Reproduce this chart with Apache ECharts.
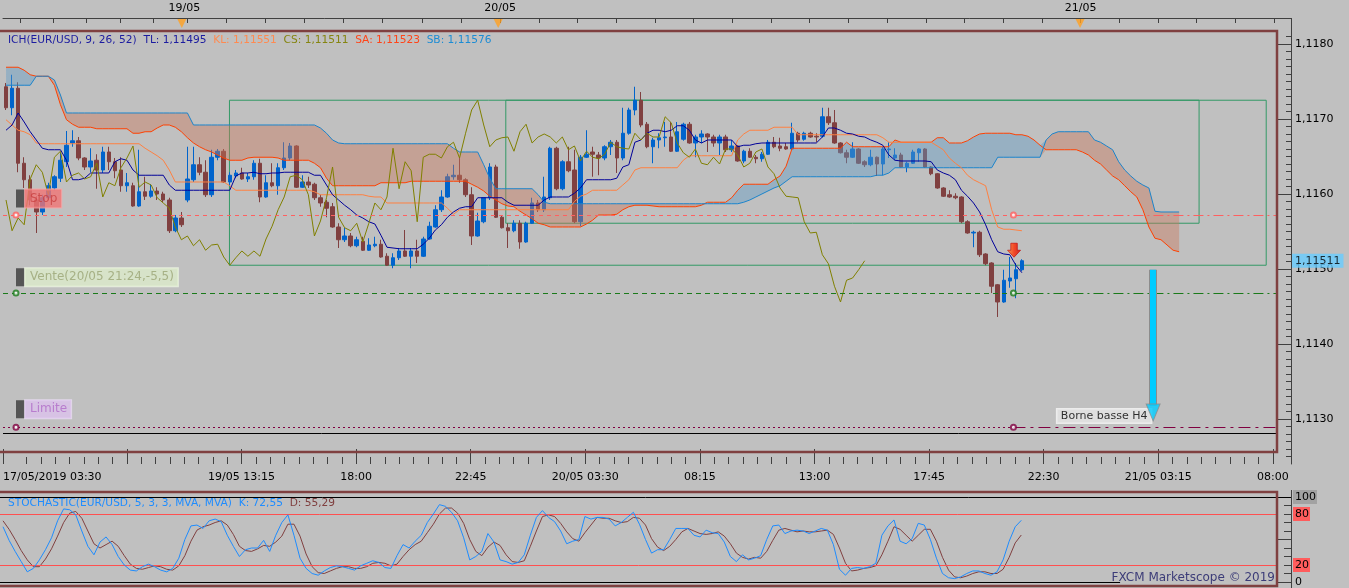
<!DOCTYPE html>
<html><head><meta charset="utf-8">
<script src="https://cdn.jsdelivr.net/npm/echarts@6/dist/echarts.min.js"></script>
<style>html,body{margin:0;padding:0;background:#c0c0c0;overflow:hidden}#c{width:1349px;height:588px}</style>
</head><body><div id="c"></div>
<script>
// ---------- data ----------
// 15-minute candles EUR/USD: [open, close, low, high]
const candles = [
[1.11743,1.11715,1.11712,1.11748],[1.11715,1.11741,1.11705,1.11759],[1.11741,1.11641,1.11629,1.11749],[1.11641,1.11619,1.11608,1.11649],[1.11619,1.11592,1.11585,1.11625],
[1.11592,1.11576,1.11548,1.11597],[1.11576,1.11595,1.11572,1.11599],[1.11595,1.11611,1.11592,1.11615],[1.11608,1.11623,1.11605,1.11625],[1.11621,1.11645,1.11616,1.11655],
[1.11643,1.11665,1.11636,1.11684],[1.11668,1.11671,1.11663,1.11685],[1.11671,1.11648,1.11645,1.11676],[1.11648,1.11636,1.11632,1.11649],[1.11636,1.11644,1.11629,1.11661],
[1.11645,1.11632,1.11607,1.11653],[1.11632,1.11656,1.11628,1.11663],[1.11656,1.11643,1.11632,1.11663],[1.11643,1.11631,1.11621,1.11648],[1.11632,1.11611,1.11603,1.11649],
[1.11611,1.11615,1.11603,1.11628],[1.11611,1.11584,1.11583,1.11615],[1.11584,1.11603,1.11583,1.11659],[1.11603,1.11597,1.11592,1.11623],[1.11597,1.11604,1.11595,1.11613],
[1.11604,1.11600,1.11592,1.11609],[1.11600,1.11592,1.11589,1.11603],[1.11592,1.11551,1.11548,1.11595],[1.11551,1.11568,1.11549,1.11572],[1.11568,1.11559,1.11556,1.11576],
[1.11592,1.11620,1.11589,1.11663],[1.11619,1.11639,1.11616,1.11663],[1.11639,1.11629,1.11625,1.11649],[1.11629,1.11599,1.11596,1.11645],[1.11599,1.11649,1.11596,1.11659],
[1.11649,1.11657,1.11645,1.11660],[1.11657,1.11616,1.11615,1.11660],[1.11616,1.11625,1.11611,1.11629],[1.11624,1.11628,1.11621,1.11632],[1.11628,1.11620,1.11619,1.11635],
[1.11620,1.11623,1.11616,1.11628],[1.11623,1.11641,1.11619,1.11645],[1.11641,1.11596,1.11589,1.11647],[1.11596,1.11615,1.11595,1.11625],[1.11615,1.11611,1.11609,1.11641],
[1.11611,1.11635,1.11599,1.11641],[1.11635,1.11648,1.11632,1.11669],[1.11648,1.11664,1.11645,1.11668],[1.11664,1.11609,1.11608,1.11665],[1.11609,1.11616,1.11608,1.11625],
[1.11616,1.11612,1.11608,1.11623],[1.11613,1.11595,1.11592,1.11615],[1.11595,1.11588,1.11583,1.11599],[1.11589,1.11581,1.11569,1.11592],[1.11583,1.11556,1.11555,1.11588],
[1.11556,1.11539,1.11528,1.11561],[1.11539,1.11544,1.11536,1.11555],[1.11544,1.11531,1.11529,1.11548],[1.11531,1.11539,1.11529,1.11543],[1.11537,1.11525,1.11524,1.11543],
[1.11525,1.11532,1.11524,1.11541],[1.11531,1.11533,1.11529,1.11543],[1.11533,1.11516,1.11515,1.11539],[1.11517,1.11505,1.11504,1.11521],[1.11505,1.11515,1.11501,1.11521],
[1.11515,1.11524,1.11512,1.11528],[1.11524,1.11517,1.11516,1.11552],[1.11517,1.11524,1.11501,1.11528],[1.11524,1.11517,1.11508,1.11539],[1.11517,1.11540,1.11516,1.11543],
[1.11540,1.11557,1.11539,1.11563],[1.11556,1.11579,1.11555,1.11585],[1.11579,1.11596,1.11576,1.11605],[1.11596,1.11623,1.11595,1.11627],[1.11623,1.11625,1.11619,1.11639],
[1.11625,1.11619,1.11615,1.11649],[1.11619,1.11599,1.11596,1.11621],[1.11599,1.11544,1.11532,1.11609],[1.11544,1.11564,1.11543,1.11575],[1.11563,1.11595,1.11561,1.11596],
[1.11595,1.11636,1.11592,1.11641],[1.11636,1.11569,1.11568,1.11639],[1.11569,1.11555,1.11554,1.11572],[1.11555,1.11551,1.11528,1.11561],[1.11551,1.11561,1.11549,1.11565],
[1.11561,1.11536,1.11527,1.11565],[1.11536,1.11561,1.11535,1.11563],[1.11561,1.11588,1.11560,1.11595],[1.11588,1.11579,1.11576,1.11592],[1.11579,1.11596,1.11576,1.11623],
[1.11595,1.11661,1.11592,1.11663],[1.11661,1.11607,1.11605,1.11663],[1.11607,1.11643,1.11605,1.11645],[1.11643,1.11631,1.11629,1.11663],[1.11632,1.11563,1.11561,1.11659],
[1.11563,1.11649,1.11557,1.11652],[1.11649,1.11653,1.11648,1.11685],[1.11656,1.11653,1.11623,1.11663],[1.11652,1.11648,1.11625,1.11656],[1.11648,1.11663,1.11645,1.11665],
[1.11663,1.11669,1.11652,1.11672],[1.11669,1.11648,1.11628,1.11672],[1.11648,1.11681,1.11645,1.11715],[1.11681,1.11712,1.11679,1.11715],[1.11712,1.11725,1.11705,1.11743],
[1.11725,1.11692,1.11689,1.11736],[1.11693,1.11663,1.11661,1.11696],[1.11663,1.11672,1.11641,1.11675],[1.11672,1.11675,1.11661,1.11681],[1.11675,1.11676,1.11663,1.11696],
[1.11676,1.11657,1.11656,1.11696],[1.11657,1.11683,1.11656,1.11696],[1.11673,1.11693,1.11671,1.11695],[1.11693,1.11668,1.11667,1.11696],[1.11668,1.11676,1.11649,1.11679],
[1.11676,1.11680,1.11668,1.11685],[1.11680,1.11676,1.11656,1.11681],[1.11676,1.11668,1.11663,1.11679],[1.11668,1.11676,1.11652,1.11679],[1.11676,1.11659,1.11656,1.11679],
[1.11659,1.11664,1.11656,1.11672],[1.11664,1.11644,1.11643,1.11665],[1.11644,1.11657,1.11641,1.11659],[1.11657,1.11649,1.11648,1.11661],[1.11649,1.11647,1.11641,1.11652],
[1.11647,1.11653,1.11643,1.11656],[1.11653,1.11669,1.11652,1.11672],[1.11669,1.11663,1.11661,1.11676],[1.11664,1.11661,1.11657,1.11675],[1.11663,1.11660,1.11659,1.11668],
[1.11660,1.11681,1.11659,1.11695],[1.11681,1.11672,1.11669,1.11683],[1.11673,1.11681,1.11671,1.11683],[1.11681,1.11676,1.11675,1.11683],[1.11677,1.11676,1.11669,1.11681],
[1.11677,1.11703,1.11675,1.11715],[1.11703,1.11695,1.11692,1.11715],[1.11695,1.11668,1.11667,1.11712],[1.11668,1.11655,1.11654,1.11669],[1.11655,1.11649,1.11641,1.11659],
[1.11649,1.11660,1.11648,1.11669],[1.11660,1.11641,1.11640,1.11661],[1.11643,1.11639,1.11636,1.11645],[1.11639,1.11649,1.11637,1.11659],[1.11649,1.11640,1.11624,1.11650],
[1.11640,1.11660,1.11625,1.11663],[1.11659,1.11660,1.11648,1.11669],[1.11648,1.11652,1.11645,1.11661],[1.11652,1.11636,1.11635,1.11655],[1.11636,1.11641,1.11629,1.11643],
[1.11641,1.11656,1.11640,1.11659],[1.11655,1.11660,1.11643,1.11661],[1.11660,1.11636,1.11635,1.11661],[1.11636,1.11627,1.11625,1.11637],[1.11627,1.11608,1.11607,1.11628],
[1.11608,1.11597,1.11596,1.11609],[1.11599,1.11596,1.11595,1.11605],[1.11597,1.11595,1.11593,1.11601],[1.11596,1.11563,1.11561,1.11597],[1.11563,1.11548,1.11547,1.11565],
[1.11548,1.11549,1.11529,1.11551],[1.11549,1.11519,1.11516,1.11551],[1.11520,1.11507,1.11505,1.11521],[1.11508,1.11477,1.11468,1.11509],[1.11479,1.11456,1.11436,1.11480],
[1.11456,1.11485,1.11455,1.11499],[1.11484,1.11488,1.11475,1.11516],[1.11487,1.11499,1.11461,1.11508],[1.11499,1.11511,1.11497,1.11513]
];
// Tenkan-sen (TL)
const tenkan = [
1.11685,1.11692,1.11708,1.11696,1.11683,1.11672,1.11661,1.11659,1.11659,1.11659,
1.11645,1.11619,1.11619,1.11621,1.11628,1.11628,1.11628,1.11628,1.11643,1.11647,
1.11645,1.11632,1.11625,1.11625,1.11625,1.11625,1.11625,1.11612,1.11605,1.11605,
1.11605,1.11605,1.11605,1.11605,1.11605,1.11605,1.11605,1.11605,1.11624,1.11628,
1.11628,1.11629,1.11627,1.11627,1.11628,1.11628,1.11629,1.11629,1.11629,1.11629,
1.11629,1.11625,1.11625,1.11612,1.11599,1.11592,1.11585,1.11579,1.11572,1.11568,
1.11563,1.11560,1.11545,1.11529,1.11528,1.11527,1.11527,1.11527,1.11527,1.11533,
1.11541,1.11552,1.11559,1.11569,1.11576,1.11581,1.11583,1.11583,1.11595,1.11595,
1.11595,1.11595,1.11595,1.11589,1.11585,1.11585,1.11585,1.11585,1.11585,1.11592,
1.11596,1.11596,1.11596,1.11596,1.11601,1.11608,1.11619,1.11619,1.11619,1.11619,
1.11619,1.11621,1.11636,1.11639,1.11669,1.11672,1.11681,1.11685,1.11685,1.11683,
1.11685,1.11691,1.11691,1.11685,1.11672,1.11668,1.11672,1.11672,1.11672,1.11672,
1.11672,1.11663,1.11665,1.11665,1.11667,1.11668,1.11668,1.11668,1.11668,1.11668,
1.11668,1.11668,1.11668,1.11668,1.11668,1.11676,1.11688,1.11688,1.11685,1.11681,
1.11680,1.11677,1.11676,1.11672,1.11669,1.11665,1.11652,1.11645,1.11644,1.11644,
1.11644,1.11644,1.11644,1.11643,1.11632,1.11628,1.11625,1.11619,1.11605,1.11597,
1.11588,1.11576,1.11559,1.11539,1.11523,1.11520,1.11519,1.11505,1.11495];
// Kijun-sen (KL)
const kijun = [
1.11699,1.11692,1.11685,1.11683,1.11679,1.11668,1.11667,1.11667,1.11667,1.11667,
1.11667,1.11667,1.11667,1.11667,1.11667,1.11667,1.11667,1.11667,1.11667,1.11667,
1.11667,1.11667,1.11667,1.11661,1.11656,1.11651,1.11645,1.11632,1.11616,1.11616,
1.11616,1.11616,1.11616,1.11616,1.11616,1.11616,1.11616,1.11611,1.11605,1.11605,
1.11605,1.11605,1.11605,1.11605,1.11605,1.11605,1.11605,1.11605,1.11605,1.11605,
1.11605,1.11603,1.11599,1.11599,1.11599,1.11599,1.11599,1.11599,1.11599,1.11599,
1.11597,1.11596,1.11596,1.11588,1.11588,1.11588,1.11588,1.11588,1.11588,1.11588,
1.11588,1.11588,1.11588,1.11581,1.11573,1.11579,1.11579,1.11579,1.11579,1.11579,
1.11579,1.11579,1.11579,1.11579,1.11579,1.11579,1.11579,1.11579,1.11579,1.11579,
1.11579,1.11579,1.11579,1.11579,1.11590,1.11597,1.11600,1.11605,1.11605,1.11605,
1.11605,1.11605,1.11612,1.11619,1.11632,1.11635,1.11635,1.11635,1.11635,1.11635,
1.11635,1.11635,1.11645,1.11651,1.11651,1.11651,1.11651,1.11651,1.11651,1.11651,
1.11651,1.11672,1.11680,1.11685,1.11685,1.11685,1.11685,1.11689,1.11689,1.11689,
1.11689,1.11679,1.11679,1.11679,1.11679,1.11679,1.11679,1.11679,1.11679,1.11679,
1.11679,1.11679,1.11679,1.11679,1.11679,1.11675,1.11669,1.11669,1.11669,1.11669,
1.11669,1.11669,1.11669,1.11669,1.11664,1.11659,1.11648,1.11641,1.11635,1.11625,
1.11619,1.11615,1.11611,1.11579,1.11556,1.11553,1.11553,1.11552,1.11551];
// Senkou span A (SA), 26 bars ahead
const senkouA = [
1.11769,1.11769,1.11769,1.11765,1.11759,1.11757,1.11757,1.11757,1.11745,1.11719,
1.11699,1.11693,1.11689,1.11689,1.11689,1.11687,1.11687,1.11687,1.11687,1.11687,
1.11687,1.11681,1.11681,1.11683,1.11683,1.11688,1.11692,1.11692,1.11689,1.11683,
1.11675,1.11668,1.11663,1.11659,1.11656,1.11652,1.11648,1.11645,1.11645,1.11645,
1.11648,1.11649,1.11649,1.11649,1.11649,1.11648,1.11645,1.11645,1.11645,1.11645,
1.11645,1.11641,1.11635,1.11621,1.11611,1.11611,1.11611,1.11611,1.11611,1.11611,
1.11611,1.11611,1.11615,1.11615,1.11615,1.11615,1.11615,1.11617,1.11617,1.11617,
1.11617,1.11617,1.11617,1.11617,1.11617,1.11617,1.11617,1.11613,1.11609,1.11604,
1.11597,1.11592,1.11587,1.11584,1.11583,1.11577,1.11572,1.11567,1.11561,1.11559,
1.11556,1.11556,1.11556,1.11556,1.11556,1.11556,1.11560,1.11565,1.11572,1.11572,
1.11572,1.11573,1.11579,1.11583,1.11585,1.11585,1.11585,1.11584,1.11583,1.11583,
1.11583,1.11583,1.11583,1.11583,1.11583,1.11585,1.11589,1.11589,1.11589,1.11589,
1.11595,1.11605,1.11613,1.11613,1.11613,1.11613,1.11613,1.11619,1.11624,1.11637,
1.11661,1.11661,1.11661,1.11661,1.11661,1.11661,1.11661,1.11661,1.11661,1.11669,
1.11663,1.11663,1.11663,1.11663,1.11663,1.11663,1.11663,1.11672,1.11669,1.11669,
1.11669,1.11669,1.11669,1.11669,1.11675,1.11675,1.11668,1.11668,1.11668,1.11671,
1.11676,1.11680,1.11681,1.11681,1.11681,1.11681,1.11681,1.11679,1.11679,1.11677,
1.11672,1.11665,1.11659,1.11659,1.11659,1.11659,1.11659,1.11659,1.11656,1.11652,
1.11645,1.11640,1.11632,1.11624,1.11619,1.11611,1.11603,1.11596,1.11579,1.11556,
1.11541,1.11539,1.11532,1.11525,1.11523];
// Senkou span B (SB), 26 bars ahead
const senkouB = [
1.11745,1.11745,1.11745,1.11745,1.11745,1.11757,1.11757,1.11757,1.11752,1.11732,
1.11708,1.11708,1.11708,1.11708,1.11708,1.11708,1.11708,1.11708,1.11708,1.11708,
1.11708,1.11708,1.11708,1.11708,1.11708,1.11708,1.11708,1.11708,1.11708,1.11708,
1.11708,1.11692,1.11692,1.11692,1.11692,1.11692,1.11692,1.11692,1.11692,1.11692,
1.11692,1.11692,1.11692,1.11692,1.11692,1.11692,1.11692,1.11692,1.11692,1.11692,
1.11692,1.11692,1.11688,1.11681,1.11672,1.11668,1.11667,1.11667,1.11667,1.11667,
1.11667,1.11667,1.11667,1.11667,1.11667,1.11667,1.11667,1.11667,1.11667,1.11667,
1.11667,1.11667,1.11667,1.11667,1.11661,1.11656,1.11656,1.11656,1.11656,1.11639,
1.11621,1.11607,1.11607,1.11607,1.11607,1.11607,1.11607,1.11607,1.11599,1.11589,
1.11587,1.11587,1.11587,1.11587,1.11587,1.11587,1.11587,1.11587,1.11587,1.11587,
1.11587,1.11587,1.11587,1.11587,1.11587,1.11587,1.11587,1.11587,1.11587,1.11587,
1.11587,1.11587,1.11587,1.11587,1.11587,1.11587,1.11587,1.11587,1.11587,1.11587,
1.11587,1.11587,1.11589,1.11592,1.11596,1.11600,1.11604,1.11608,1.11611,1.11617,
1.11623,1.11623,1.11623,1.11623,1.11623,1.11623,1.11623,1.11623,1.11623,1.11623,
1.11623,1.11623,1.11623,1.11623,1.11625,1.11625,1.11628,1.11635,1.11635,1.11635,
1.11635,1.11635,1.11635,1.11635,1.11635,1.11635,1.11635,1.11635,1.11635,1.11635,
1.11635,1.11635,1.11635,1.11635,1.11649,1.11649,1.11649,1.11649,1.11649,1.11649,
1.11649,1.11649,1.11672,1.11680,1.11683,1.11683,1.11683,1.11683,1.11683,1.11683,
1.11672,1.11669,1.11664,1.11659,1.11643,1.11632,1.11624,1.11617,1.11612,1.11608,
1.11577,1.11576,1.11576,1.11576,1.11576];
// Stochastic %K and %D
const stochK = [
65,49,36,24,12,16,26,38,52,72, 86,85,79,60,42,32,47,53,44,30, 20,14,13,18,21,18,14,12,16,28,
50,66,67,63,72,74,71,55,42,30, 38,40,40,49,36,55,70,79,55,28, 16,10,8,13,17,19,18,16,14,19,
22,25,23,17,16,31,44,40,48,55, 70,80,91,89,82,72,52,26,30,36, 57,47,26,24,21,23,32,55,76,84,
76,71,60,45,48,50,77,74,76,76, 74,66,70,76,82,68,50,34,38,38, 50,63,63,63,55,53,61,58,57,47,
30,24,32,26,28,31,50,66,67,57, 60,61,60,57,60,63,61,44,15,8, 16,17,16,18,22,55,66,73,48,45,
51,69,67,50,28,10,5,4,6,10, 13,13,10,8,12,26,48,65,72.55];
const stochD = [
72,62,50,37,26,18,18,27,39,54, 70,81,83,75,60,45,40,44,48,42, 31,21,16,15,17,19,18,15,14,19,
31,48,61,65,67,70,72,67,56,42, 37,36,39,43,42,47,54,68,68,54, 33,18,11,10,13,16,18,18,16,16,
18,22,23,22,19,21,30,38,44,48, 58,68,80,87,87,81,69,50,36,31, 41,47,43,32,24,23,25,42,60,77,
79,77,69,59,51,48,58,67,76,75, 75,72,70,71,76,75,67,51,41,37, 42,50,59,63,60,57,56,57,59,54,
45,34,29,27,29,28,36,49,61,63, 61,59,60,59,59,60,61,56,40,22, 13,14,16,17,19,32,48,65,62,55,
48,55,62,62,48,29,14,6,5,7, 10,12,12,10,10,15,29,46,55.29];
// order levels
const levelNames = ['Stop', 'Vente(20/05 21:24,-5,5)', 'Limite'];
const levelPrices = [1.11572, 1.11468, 1.11289];
// analyst boxes [fromBar, toBar, low, high]
const boxes = [[36.95, 208.4, 1.11505, 1.11725], [82.65, 197.3, 1.11561, 1.11725]];
// target arrow [bar, fromPrice, toPrice]
const target = [189.7, 1.11499, 1.11318];
const targetText = 'Borne basse H4';
// axis labels
const priceLabels = [1.113, 1.114, 1.115, 1.116, 1.117, 1.118];
const timeLabelPos = [-0.5, 38.95, 57.9, 76.85, 95.8, 114.75, 133.7, 152.65, 171.6, 190.55, 209.5];
const timeLabels = ['17/05/2019 03:30', '19/05 13:15', '18:00', '22:45', '20/05 03:30', '08:15', '13:00', '17:45', '22:30', '21/05 03:15', '08:00'];
const majorTimeTicks = [-0.5, 20, 38.95, 57.9, 76.85, 95.8, 114.75, 133.7, 152.65, 171.6, 190.55, 209.5];
const dayPos = [29.5, 81.7, 177.7];
const dayLabels = ['19/05', '20/05', '21/05'];
const topTicks = [2.3, 7.8, 13.3, 18.9, 24.4, 29.9, 36.4, 42.85, 49.3, 55.8, 62.3, 68.75, 75.2, 81.7, 88.1, 94.5, 100.9, 107.3, 113.7, 120.1, 126.5, 132.9, 139.3, 145.7, 152.1, 158.5, 164.9, 171.3, 177.7, 184.1, 190.5, 196.9, 203.3, 209.7];

// ---------- derived tables ----------
const FONT = 'DejaVu Sans';
const N = 213;
const cats = Array.from({length: N}, (_, i) => String(i));
const chikou = candles.slice(26).map(c => c[1]);
const cloudBase = senkouA.map((a, i) => Math.min(a, senkouB[i]));
const cloudBear = senkouA.map((a, i) => senkouB[i] > a ? +(senkouB[i] - a).toFixed(6) : 0);
const cloudBull = senkouA.map((a, i) => a > senkouB[i] ? +(a - senkouB[i]).toFixed(6) : 0);
const lastClose = candles[candles.length - 1][1];
const f5 = v => v.toFixed(5).replace('.', ',');
const f2 = v => v.toFixed(2).replace('.', ',');
const minorTimeTicks = [];
for (let k = -8; k <= 80; k++) { const v = 20 + k * 2.36875; if (v > -0.4 && v < 212.4 && k % 8 !== 0) minorTimeTicks.push(+v.toFixed(3)); }
const minorPriceTicks = [];
for (let k = 11125; k <= 11181; k++) minorPriceTicks.push(k / 10000);
const XMIN = -0.5, XMAX = 212.5, XEND = 210.2, XCIRC = 166.6, XLEFT = 1.645, XTEXT = 184.3;

const baseText = {fontFamily: FONT, fontSize: 11, color: '#000'};
const hidVal = (grid) => ({type: 'value', gridIndex: grid, min: XMIN, max: XMAX, show: false});

const levelStyles = [
  {c: '#ff6060', left: [4, 4], right: [10, 4, 2, 4], bg: '#f07474', fg: '#c84040', bd: '#f8a8a8', labelPrice: 1.11594},
  {c: '#1a7a1a', left: [5, 4], right: [10, 4, 2, 4], bg: '#dcebca', fg: '#9aa474', bd: '#eef6e4', labelPrice: 1.11489},
  {c: '#800040', left: [2, 3], right: [12, 5, 3, 5], bg: '#dcc2ec', fg: '#b06cc8', bd: '#eadcf4', labelPrice: 1.11313}
];

const series = [
  {type: 'candlestick', xAxisIndex: 0, yAxisIndex: 0, data: candles, barWidth: 4, z: 2,
   itemStyle: {color: '#0064cc', color0: '#804040', borderColor: '#0064cc', borderColor0: '#804040', borderWidth: 1}},
  {type: 'line', xAxisIndex: 0, yAxisIndex: 0, data: cloudBase, stack: 'cloud', symbol: 'none', lineStyle: {width: 0, opacity: 0}, z: 3, silent: true},
  {type: 'line', xAxisIndex: 0, yAxisIndex: 0, data: cloudBear, stack: 'cloud', symbol: 'none', lineStyle: {width: 0, opacity: 0}, areaStyle: {color: 'rgb(202,118,90)', opacity: 0.42}, z: 3, silent: true},
  {type: 'line', xAxisIndex: 0, yAxisIndex: 0, data: cloudBull, stack: 'cloud', symbol: 'none', lineStyle: {width: 0, opacity: 0}, areaStyle: {color: 'rgb(96,156,198)', opacity: 0.42}, z: 3, silent: true},
  {type: 'line', xAxisIndex: 0, yAxisIndex: 0, data: senkouA, symbol: 'none', lineStyle: {color: '#ff4000', width: 1}, z: 4, silent: true},
  {type: 'line', xAxisIndex: 0, yAxisIndex: 0, data: senkouB, symbol: 'none', lineStyle: {color: '#1a84cc', width: 1}, z: 4, silent: true},
  {type: 'line', xAxisIndex: 0, yAxisIndex: 0, data: kijun, symbol: 'none', lineStyle: {color: '#ff8040', width: 1}, z: 4, silent: true},
  {type: 'line', xAxisIndex: 0, yAxisIndex: 0, data: tenkan, symbol: 'none', lineStyle: {color: '#000099', width: 1}, z: 4, silent: true},
  {type: 'line', xAxisIndex: 0, yAxisIndex: 0, data: chikou, symbol: 'none', lineStyle: {color: '#808000', width: 1}, z: 4, silent: true},
  // current price tag on the right axis
  {type: 'scatter', xAxisIndex: 1, yAxisIndex: 0, data: [[XMAX, lastClose]], symbolSize: 0, z: 10, silent: true, clip: false,
   label: {show: true, position: 'right', distance: 1, formatter: f5(lastClose), backgroundColor: '#66ccff', color: '#000', padding: [2, 3, 1, 3], fontFamily: FONT, fontSize: 11}},
  // analyst boxes + black separator
  {type: 'scatter', xAxisIndex: 1, yAxisIndex: 0, data: boxes.map(b => [b[0], b[3]]), symbolSize: 0, z: 5, silent: true,
   markArea: {silent: true, itemStyle: {color: 'rgba(0,0,0,0)', borderColor: '#339966', borderWidth: 1},
     data: boxes.map(b => [{coord: [b[0], b[3]]}, {coord: [b[1], b[2]]}])},
   markLine: {silent: true, symbol: 'none', label: {show: false}, animation: false,
     data: [[{coord: [XMIN, 1.11281], lineStyle: {color: '#000', width: 1, type: 'solid'}}, {coord: [XEND, 1.11281]}]]}}
];
levelPrices.forEach((p, k) => {
  const s = levelStyles[k];
  series.push({type: 'scatter', xAxisIndex: 1, yAxisIndex: 0, data: [[XLEFT, p], [XCIRC, p]], symbol: 'emptyCircle', symbolSize: 5,
    itemStyle: {color: s.c, borderColor: s.c, borderWidth: 1}, z: 6, silent: true,
    markLine: {silent: true, symbol: 'none', label: {show: false}, animation: false,
      data: [[{coord: [XMIN, p], lineStyle: {color: s.c, width: 1, type: s.left}}, {coord: [XCIRC, p]}],
             [{coord: [XCIRC, p], lineStyle: {color: s.c, width: 1, type: s.right}}, {coord: [XEND, p]}]]}});
  series.push({type: 'scatter', xAxisIndex: 1, yAxisIndex: 0, data: [[XLEFT, s.labelPrice]], symbolSize: 0, z: 7, silent: true,
    label: {show: true, position: 'right', distance: 0, formatter: '{s| }{t|' + levelNames[k] + '}',
      rich: {s: {width: 9, height: 18, backgroundColor: '#3a3a3a'},
             t: {height: 18, lineHeight: 18, padding: [0, 4, 0, 5], backgroundColor: s.bg, color: s.fg, borderColor: s.bd, borderWidth: 1, fontFamily: FONT, fontSize: 12}}}});
});
// sell arrow signal
series.push({type: 'scatter', xAxisIndex: 1, yAxisIndex: 0, data: [[166.7, 1.11525]], symbol: 'path://M3,0 L9,0 L9,6 L12,6 L6,12 L0,6 L3,6 Z',
  symbolSize: [13, 14], z: 8, silent: true,
  itemStyle: {color: new echarts.graphic.LinearGradient(0, 0, 1, 0, [{offset: 0, color: '#ff9a40'}, {offset: 0.5, color: '#ff2a00'}, {offset: 1, color: '#d00000'}]), borderColor: '#c00000', borderWidth: 0.8}});
// target arrow: shaft
series.push({type: 'scatter', xAxisIndex: 1, yAxisIndex: 0, data: [[181.6, 1.11304]], symbolSize: 0, z: 9, silent: true,
  label: {show: true, position: 'inside', formatter: targetText, backgroundColor: '#e6e6e6', borderColor: '#f6f6f6', borderWidth: 1, color: '#000', padding: [2, 4, 1, 4], fontFamily: FONT, fontSize: 11},
  markLine: {silent: true, animation: false, symbol: 'none', label: {show: false},
    data: [[{coord: [target[0], target[1]], lineStyle: {color: '#8c8c8c', width: 8, type: 'solid'}}, {coord: [target[0], target[2]]}],
           [{coord: [target[0], target[1]], lineStyle: {color: '#00ccff', width: 6, type: 'solid'}}, {coord: [target[0], target[2]]}]]}});
// target arrow: head
series.push({type: 'scatter', xAxisIndex: 1, yAxisIndex: 0, data: [[target[0], target[2]]], symbol: 'path://M0,0 L14,0 L7,16 Z',
  symbolSize: [14, 17], symbolOffset: [0, 7], z: 10, silent: true,
  itemStyle: {color: '#00ccff', borderColor: '#8c8c8c', borderWidth: 1}});
// day markers in the top strip
series.push({type: 'scatter', xAxisIndex: 6, yAxisIndex: 4, data: dayPos.map(v => [v, 0.5]), symbol: 'triangle', symbolRotate: 180, symbolSize: [9, 9],
  itemStyle: {color: '#ffa020'}, silent: true, clip: false});
// stochastic
series.push({type: 'line', xAxisIndex: 5, yAxisIndex: 2, data: stochD, symbol: 'none', lineStyle: {color: '#804040', width: 1}, z: 4, silent: true});
series.push({type: 'line', xAxisIndex: 5, yAxisIndex: 2, data: stochK, symbol: 'none', lineStyle: {color: '#1e8cff', width: 1}, z: 5, silent: true});
series.push({type: 'scatter', xAxisIndex: 7, yAxisIndex: 2, data: [[XMIN, 50]], symbolSize: 0, silent: true, z: 3,
  markLine: {silent: true, symbol: 'none', label: {show: false}, animation: false,
    data: [[{coord: [XMIN, 80], lineStyle: {color: '#ff5050', width: 1, type: 'solid'}}, {coord: [XEND, 80]}],
           [{coord: [XMIN, 20], lineStyle: {color: '#ff5050', width: 1, type: 'solid'}}, {coord: [XEND, 20]}],
           [{coord: [XMIN, 100], lineStyle: {color: '#000', width: 1, type: 'solid'}}, {coord: [XMAX, 100]}],
           [{coord: [XMIN, 0], lineStyle: {color: '#000', width: 1, type: 'solid'}}, {coord: [XTEXT, 0]}]]}});

const option = {
  backgroundColor: '#c0c0c0',
  animation: false,
  textStyle: {fontFamily: FONT},
  title: [
    {left: 8, top: 35, padding: 0, text: '{a|ICH(EUR/USD, 9, 26, 52)}  {a|TL: ' + f5(tenkan[tenkan.length - 1]) + '}  {k|KL: ' + f5(kijun[kijun.length - 1]) + '}  {c|CS: ' + f5(lastClose) + '}  {s|SA: ' + f5(senkouA[senkouA.length - 1]) + '}  {b|SB: ' + f5(senkouB[senkouB.length - 1]) + '}',
     textStyle: {fontFamily: FONT, fontSize: 10.6, fontWeight: 'normal',
       rich: {a: {color: '#1c1ca0', fontFamily: FONT, fontSize: 10.6}, k: {color: '#ff8a50', fontFamily: FONT, fontSize: 10.6}, c: {color: '#858510', fontFamily: FONT, fontSize: 10.6},
              s: {color: '#ff4418', fontFamily: FONT, fontSize: 10.6}, b: {color: '#1c8cd4', fontFamily: FONT, fontSize: 10.6}}}},
    {left: 8, top: 498, padding: 0, text: '{k|STOCHASTIC(EUR/USD, 5, 3, 3, MVA, MVA)  K: ' + f2(stochK[stochK.length - 1]) + '}  {d|D: ' + f2(stochD[stochD.length - 1]) + '}',
     textStyle: {fontFamily: FONT, fontSize: 10.6, fontWeight: 'normal',
       rich: {k: {color: '#1e8cff', fontFamily: FONT, fontSize: 10.6}, d: {color: '#804040', fontFamily: FONT, fontSize: 10.6}}}},
    {right: 74, top: 572, padding: 0, text: 'FXCM Marketscope © 2019', textStyle: {fontFamily: FONT, fontSize: 12, fontWeight: 'normal', color: '#3c3c78'}}
  ],
  grid: [
    {left: 0, top: 31, width: 1291, height: 433},
    {left: 0, top: 497, width: 1291, height: 85},
    {left: 0, top: 19, width: 1291, height: 9}
  ],
  xAxis: [
    {type: 'category', gridIndex: 0, data: cats, boundaryGap: true, show: false},
    hidVal(0),
    {type: 'value', gridIndex: 0, position: 'top', offset: 13, min: XMIN, max: XMAX,
     axisLine: {show: true, onZero: false, lineStyle: {color: '#404040', width: 1}},
     axisTick: {show: true, inside: true, length: 5, customValues: topTicks, lineStyle: {color: '#404040'}},
     axisLabel: Object.assign({customValues: dayPos, margin: 4, formatter: v => { const i = dayPos.findIndex(d => Math.abs(d - v) < 0.01); return i >= 0 ? dayLabels[i] : ''; }}, baseText),
     splitLine: {show: false}},
    {type: 'value', gridIndex: 0, position: 'bottom', min: XMIN, max: XMAX,
     axisLine: {show: false, onZero: false},
     axisTick: {show: true, inside: true, length: 15, customValues: majorTimeTicks, lineStyle: {color: '#404040'}},
     axisLabel: Object.assign({customValues: timeLabelPos, margin: 8, alignMinLabel: 'left', formatter: v => { const i = timeLabelPos.findIndex(d => Math.abs(d - v) < 0.01); return i >= 0 ? timeLabels[i] : ''; }}, baseText),
     splitLine: {show: false}},
    {type: 'value', gridIndex: 0, position: 'bottom', min: XMIN, max: XMAX,
     axisLine: {show: false, onZero: false},
     axisTick: {show: true, inside: true, length: 7, customValues: minorTimeTicks, lineStyle: {color: '#404040'}},
     axisLabel: {show: false}, splitLine: {show: false}},
    {type: 'category', gridIndex: 1, data: cats, boundaryGap: true, show: false},
    hidVal(2),
    hidVal(1)
  ],
  yAxis: [
    {type: 'value', gridIndex: 0, position: 'right', min: 1.1124, max: 1.1181733,
     axisLine: {show: true, onZero: false, lineStyle: {color: '#404040'}},
     axisTick: {show: true, inside: true, length: 13, customValues: priceLabels, lineStyle: {color: '#404040'}},
     axisLabel: Object.assign({customValues: priceLabels, margin: 4, formatter: v => v.toFixed(4).replace('.', ',')}, baseText),
     splitLine: {show: false}},
    {type: 'value', gridIndex: 0, position: 'right', min: 1.1124, max: 1.1181733,
     axisLine: {show: false, onZero: false},
     axisTick: {show: true, inside: true, length: 5, customValues: minorPriceTicks, lineStyle: {color: '#404040'}},
     axisLabel: {show: false}, splitLine: {show: false}},
    {type: 'value', gridIndex: 1, position: 'right', min: 0, max: 100, interval: 10,
     axisLine: {show: true, onZero: false, lineStyle: {color: '#404040'}},
     axisTick: {show: true, inside: true, length: 7, lineStyle: {color: '#404040'}},
     axisLabel: {customValues: [0, 20, 80, 100], margin: 2, fontFamily: FONT, fontSize: 11, color: '#000',
       formatter: v => v === 100 ? '{g|100}' : (v === 80 || v === 20) ? '{r|' + v + '}' : '{n|' + v + '}',
       rich: {g: {backgroundColor: '#a2a2a2', padding: [2, 1, 1, 2], fontFamily: FONT, fontSize: 11, color: '#000'},
              r: {backgroundColor: '#ff5c5c', padding: [2, 1, 1, 2], fontFamily: FONT, fontSize: 11, color: '#000'},
              n: {padding: [2, 1, 1, 2], fontFamily: FONT, fontSize: 11, color: '#000'}}},
     splitLine: {show: false}},
    {type: 'value', gridIndex: 1, position: 'right', min: 0, max: 100,
     axisLine: {show: false, onZero: false},
     axisTick: {show: true, inside: true, length: 15, customValues: [0, 50, 100], lineStyle: {color: '#404040'}},
     axisLabel: {show: false}, splitLine: {show: false}},
    {type: 'value', gridIndex: 2, min: 0, max: 1, show: false}
  ],
  graphic: [
    {type: 'rect', z: 100, silent: true, shape: {x: -3, y: 31, width: 1280, height: 421}, style: {fill: 'transparent', stroke: '#7f4040', lineWidth: 2.5}},
    {type: 'rect', z: 100, silent: true, shape: {x: -3, y: 492, width: 1280, height: 94}, style: {fill: 'transparent', stroke: '#7f4040', lineWidth: 2.5}},
    {type: 'line', z: 100, silent: true, shape: {x1: 1291.5, y1: 18, x2: 1291.5, y2: 31}, style: {stroke: '#404040', lineWidth: 1}},
    {type: 'line', z: 100, silent: true, shape: {x1: 1291.5, y1: 490, x2: 1291.5, y2: 588}, style: {stroke: '#404040', lineWidth: 1}}
  ],
  series: series
};
const chart = echarts.init(document.getElementById('c'));
chart.setOption(option);
</script>
</body></html>
